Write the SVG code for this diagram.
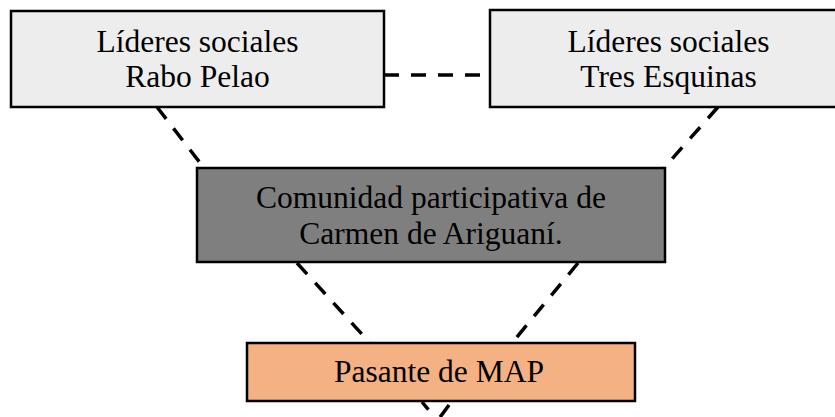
<svg xmlns="http://www.w3.org/2000/svg" width="835" height="417" viewBox="0 0 835 417">
<style>
.box{stroke:#000;stroke-width:2.5}
.light{fill:#ededed}
.dark{fill:#7f7f7f}
.orange{fill:#f4b183}
.t{font-family:"Liberation Serif","Times New Roman",serif;font-size:31.5px;fill:#000;text-anchor:middle}
.c line{stroke:#000;stroke-width:3.5;stroke-dasharray:15 12;fill:none}
</style>
<rect width="835" height="417" fill="#fff"/>
<g class="c" id="connectors">
<line x1="384" y1="75" x2="490" y2="75"/>
<line x1="157" y1="107" x2="204" y2="168"/>
<line x1="718" y1="107" x2="664" y2="168"/>
<line x1="297" y1="263" x2="370" y2="343"/>
<line x1="578" y1="263" x2="512" y2="343"/>
<line x1="422" y1="402" x2="437" y2="420" style="stroke-dasharray:10 20"/>
<line x1="449" y1="405" x2="438" y2="420"/>
</g>
<g id="rabo-pelao">
<rect class="box light" x="11" y="11" width="373" height="96"/>
<text class="t" x="197.5" y="52">Líderes sociales</text>
<text class="t" x="197.5" y="87">Rabo Pelao</text>
</g>
<g id="tres-esquinas">
<rect class="box light" x="490" y="10" width="357" height="97"/>
<text class="t" x="668.5" y="52">Líderes sociales</text>
<text class="t" x="668.5" y="87">Tres Esquinas</text>
</g>
<g id="comunidad">
<rect class="box dark" x="197" y="168" width="468" height="94"/>
<text class="t" x="431" y="208">Comunidad participativa de</text>
<text class="t" x="431" y="244">Carmen de Ariguaní.</text>
</g>
<g id="pasante">
<rect class="box orange" x="247" y="343" width="388" height="58"/>
<text class="t" x="439" y="382">Pasante de MAP</text>
</g>
</svg>
